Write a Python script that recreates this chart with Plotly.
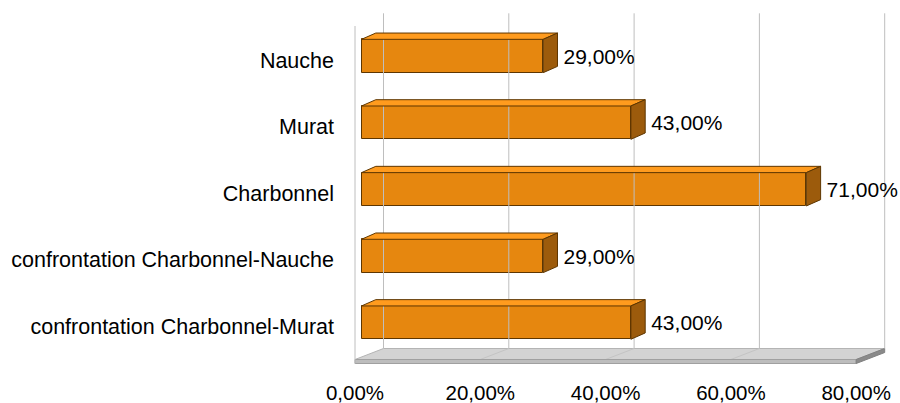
import plotly.graph_objects as go

# ---------------- data ----------------
categories = ["confrontation Charbonnel-Murat", "confrontation Charbonnel-Nauche",
              "Charbonnel", "Murat", "Nauche"]
values = [43, 29, 71, 43, 29]          # percent
value_labels = ["43,00%", "29,00%", "71,00%", "43,00%", "29,00%"]
tick_values = [0, 20, 40, 60, 80]
tick_labels = ["0,00%", "20,00%", "40,00%", "60,00%", "80,00%"]

# ---------------- geometry (pixels -> data units) ----------------
W, H = 900, 403
L, R, T, B = 338, 895, 5, 378
X0PX, KX = 361.5, 6.265      # px of value 0, px per percent
Y0PX, KY = 322.6, 66.65      # px of first category, px per category
xr = [(L - X0PX) / KX, (R - X0PX) / KX]
yr = [(Y0PX - B) / KY, (Y0PX - T) / KY]

BAR_W = 0.5
bdx, bdy = 14.3 / KX, 6.3 / KY            # bar depth
fx, fy = -6.5 / KX, -(359.5 - Y0PX) / KY  # floor front-left corner
wdx, wdy = 28.5 / KX, 11.0 / KY           # floor / wall depth
th = 4.0 / KY                             # floor thickness
ytop_back = (Y0PX - 13.3) / KY
ytop_left = (Y0PX - 26.0) / KY
xmax = tick_values[-1]
label_gap = 6.0 / KX
label_drop = 2.5 / KY

FRONT = "#E6870F"
TOP = "#FF9B1E"
SIDE = "#9C5B0C"
EDGE = "#5E3600"
GRID = "#BEBEBE"
FONT = "Liberation Sans, Arial, sans-serif"

fig = go.Figure()


def poly(xs, ys, fill, line, width=1):
    fig.add_trace(go.Scatter(x=xs + [xs[0]], y=ys + [ys[0]], mode="lines", fill="toself",
                             fillcolor=fill, line=dict(color=line, width=width),
                             hoverinfo="skip", showlegend=False))


def seg(xs, ys, color, width=1):
    fig.add_trace(go.Scatter(x=xs, y=ys, mode="lines", line=dict(color=color, width=width),
                             hoverinfo="skip", showlegend=False))


# floor top
poly([fx, fx + xmax, fx + xmax + wdx, fx + wdx], [fy, fy, fy + wdy, fy + wdy], "#D3D3D3", "#B4B4B4")
# floor grid lines
for t in tick_values[1:-1]:
    seg([fx + t, fx + t + wdx], [fy, fy + wdy], "#C4C4C4")
# floor front face
poly([fx, fx + xmax, fx + xmax, fx], [fy, fy, fy - th, fy - th], "#BDBDBD", "#A0A0A0")
# floor right side
poly([fx + xmax, fx + xmax + wdx, fx + xmax + wdx, fx + xmax],
     [fy, fy + wdy, fy + wdy - th, fy - th], "#8A8A8A", "#808080")
# back wall grid lines
for t in tick_values:
    seg([fx + wdx + t, fx + wdx + t], [fy + wdy, ytop_back], GRID)
# left wall edge
seg([fx, fx], [fy - th, ytop_left], GRID)

# bars: top and side faces
for i, v in enumerate(values):
    yt, yb = i + BAR_W / 2, i - BAR_W / 2
    poly([0, v, v + bdx, bdx], [yt, yt, yt + bdy, yt + bdy], TOP, EDGE)
    poly([v, v + bdx, v + bdx, v], [yb, yb + bdy, yt + bdy, yt], SIDE, EDGE)

# bars: front faces
fig.add_trace(go.Bar(x=values, y=list(range(len(values))), orientation="h", width=BAR_W,
                     marker=dict(color=FRONT, line=dict(color=EDGE, width=1)),
                     hoverinfo="skip", showlegend=False))

# value labels
fig.add_trace(go.Scatter(x=[v + bdx + label_gap for v in values],
                         y=[i - label_drop for i in range(len(values))],
                         mode="text", text=value_labels, textposition="middle right",
                         textfont=dict(family=FONT, size=21, color="#000000"),
                         cliponaxis=False, hoverinfo="skip", showlegend=False))

fig.update_layout(
    width=W, height=H,
    margin=dict(l=L, r=W - R, t=T, b=H - B, pad=0, autoexpand=False),
    paper_bgcolor="white", plot_bgcolor="white",
    bargap=0, showlegend=False,
    font=dict(family=FONT, size=21, color="#000000"),
    xaxis=dict(range=xr, showgrid=False, zeroline=False, showline=False, automargin=False,
               tickvals=[fx + t for t in tick_values], ticktext=tick_labels,
               tickfont=dict(size=20.5), ticklabelstandoff=0, ticks="", fixedrange=True),
    yaxis=dict(range=yr, showgrid=False, zeroline=False, showline=False, automargin=False,
               tickvals=list(range(len(categories))), ticktext=categories,
               tickfont=dict(size=21.5), ticklabelstandoff=3, ticklabelshift=4,
               ticks="", fixedrange=True),
)

fig.write_html("out.html", config={"displayModeBar": False},
               post_script="document.body.style.margin='0px';")
